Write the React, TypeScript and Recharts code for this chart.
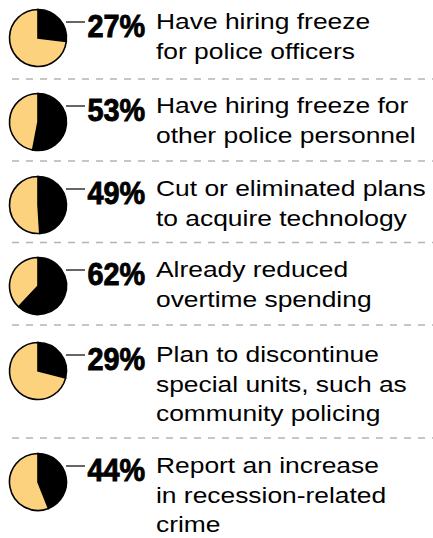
import React from 'react';
import { PieChart, Pie, Cell } from 'recharts';

// share of police agencies for each budget measure
const percents = [27, 53, 49, 62, 29, 44];
const labels = [
  ['Have hiring freeze', 'for police officers'],
  ['Have hiring freeze for', 'other police personnel'],
  ['Cut or eliminated plans', 'to acquire technology'],
  ['Already reduced', 'overtime spending'],
  ['Plan to discontinue', 'special units, such as', 'community policing'],
  ['Report an increase', 'in recession-related', 'crime'],
];

// layout
const W = 433;
const H = 538;
const PIE_CX = 38;
const PIE_R = 28.5;
const rowCy = [38, 122, 205, 286, 371, 482];
const separators = [79, 161, 242.5, 325, 438];
const YES = '#000000';
const NO = '#FDD27F';

const App: React.FC = () => {
  return (
    <div style={{ position: 'absolute', left: 0, top: 0, width: W, height: H, background: '#fff' }}>
      <PieChart
        width={W}
        height={H}
        margin={{ top: 0, right: 0, bottom: 0, left: 0 }}
        style={{ position: 'absolute', left: 0, top: 0 }}
      >
        {percents.map((p, i) => (
          <Pie
            key={i}
            data={[
              { name: 'yes', value: p },
              { name: 'no', value: 100 - p },
            ]}
            dataKey="value"
            cx={PIE_CX}
            cy={rowCy[i]}
            outerRadius={PIE_R}
            startAngle={90}
            endAngle={-270}
            stroke="#000"
            strokeWidth={1.6}
            isAnimationActive={false}
          >
            <Cell fill={YES} />
            <Cell fill={NO} />
          </Pie>
        ))}
      </PieChart>
      <svg width={W} height={H} style={{ position: 'absolute', left: 0, top: 0, pointerEvents: 'none' }}>
        {separators.map((y, i) => (
          <line key={i} x1={12} x2={W} y1={y} y2={y} stroke="#b4b4b4" strokeWidth={1.5} strokeDasharray="7 7" />
        ))}
        {percents.map((p, i) => {
          const cy = rowCy[i];
          return (
            <g key={i}>
              <line x1={66} x2={85} y1={cy - 16} y2={cy - 16} stroke="#000" strokeWidth={1.2} />
              <text
                transform={`translate(87.5 ${cy - 1.5}) scale(0.93 1)`}
                fontFamily="'Liberation Sans', Arial, sans-serif"
                fontWeight="bold"
                fontSize={31}
                fill="#000"
                stroke="#000"
                strokeWidth={0.9}
              >
                {p}%
              </text>
              {labels[i].map((line, j) => (
                <text
                  key={j}
                  transform={`translate(156 ${cy - 9 + j * 29.5}) scale(1.2 1)`}
                  fontFamily="'Liberation Sans', Arial, sans-serif"
                  fontSize={22}
                  fill="#000"
                >
                  {line}
                </text>
              ))}
            </g>
          );
        })}
      </svg>
    </div>
  );
};

export default App;
